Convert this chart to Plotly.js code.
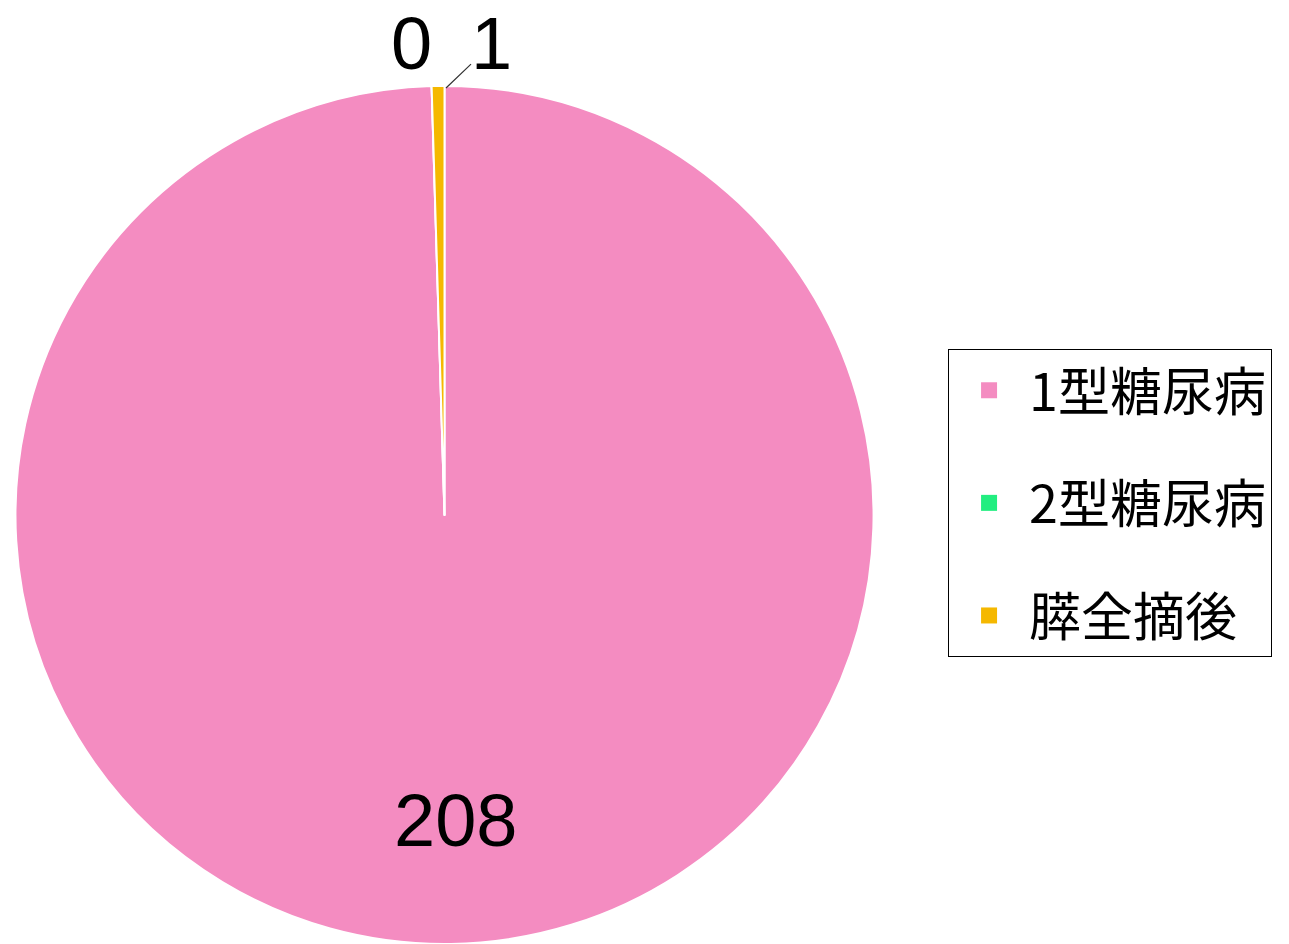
<!DOCTYPE html>
<html><head><meta charset="utf-8">
<script src="https://cdn.plot.ly/plotly-3.0.1.min.js"></script>
<style>html,body{margin:0;padding:0;background:#fff;}#chart{width:1289px;height:944px;}</style>
</head><body><div id="chart"></div>
<script>
const labels = ["1型糖尿病", "2型糖尿病", "膵全摘後"];
const values = [208, 0, 1];
const colors = ["#F48CC1", "#22EE80", "#F5B800"];

const FONT = "'Noto Sans CJK JP', sans-serif";
const NUMFONT = "'Liberation Sans', Arial, sans-serif";
const W = 1289, H = 944;

// label placement (pixels) for each slice value label, and where its leader points (null = none)
const labelPos = [[455, 820], [412, 44], [492, 44]];
const leaderTo = [null, null, [446, 88]];

const pie = {
  type: "pie",
  labels: labels,
  values: values,
  sort: false,
  direction: "clockwise",
  rotation: 0,
  marker: {colors: colors, line: {color: "#ffffff", width: 2}},
  textinfo: "none",
  domain: {x: [0.0109, 0.6788], y: [0, 0.909]},
  hoverinfo: "label+value",
  showlegend: false
};

// legend entries (one per category) so that entries can be spaced like the original
const legendTraces = labels.map((lab, i) => ({
  type: "scatter", mode: "markers",
  x: [null], y: [null],
  name: lab, legendgroup: "g" + i,
  marker: {symbol: "square", size: 20, color: colors[i]},
  hoverinfo: "skip", showlegend: true
}));

const annotations = values.map((v, i) => {
  const [px, py] = labelPos[i];
  const a = {
    text: String(v), xref: "paper", yref: "paper",
    font: {family: NUMFONT, size: 74, color: "#000"},
    xanchor: "center", yanchor: "middle", borderpad: 0
  };
  if (leaderTo[i]) {
    const [tx, ty] = leaderTo[i];
    a.x = tx / W; a.y = 1 - ty / H;
    a.showarrow = true; a.arrowhead = 0; a.arrowwidth = 1.2; a.arrowcolor = "#333";
    a.axref = "pixel"; a.ayref = "pixel";
    a.ax = px - tx; a.ay = py - ty;
    a.standoff = 0; a.startstandoff = 0;
  } else {
    a.x = px / W; a.y = 1 - py / H; a.showarrow = false;
  }
  return a;
});

const layout = {
  width: W, height: H,
  margin: {l: 0, r: 0, t: 0, b: 0},
  paper_bgcolor: "#fff", plot_bgcolor: "rgba(0,0,0,0)",
  xaxis: {visible: false}, yaxis: {visible: false},
  showlegend: true,
  annotations: annotations,
  legend: {
    x: 0.7355, xanchor: "left", y: 0.4672, yanchor: "middle",
    bordercolor: "#000", borderwidth: 1, bgcolor: "#fff",
    tracegroupgap: 42, itemwidth: 70, entrywidth: 330,
    font: {family: FONT, size: 52, color: "#000"}
  }
};

Plotly.newPlot("chart", [pie, ...legendTraces], layout, {displayModeBar: false});
</script></body></html>
